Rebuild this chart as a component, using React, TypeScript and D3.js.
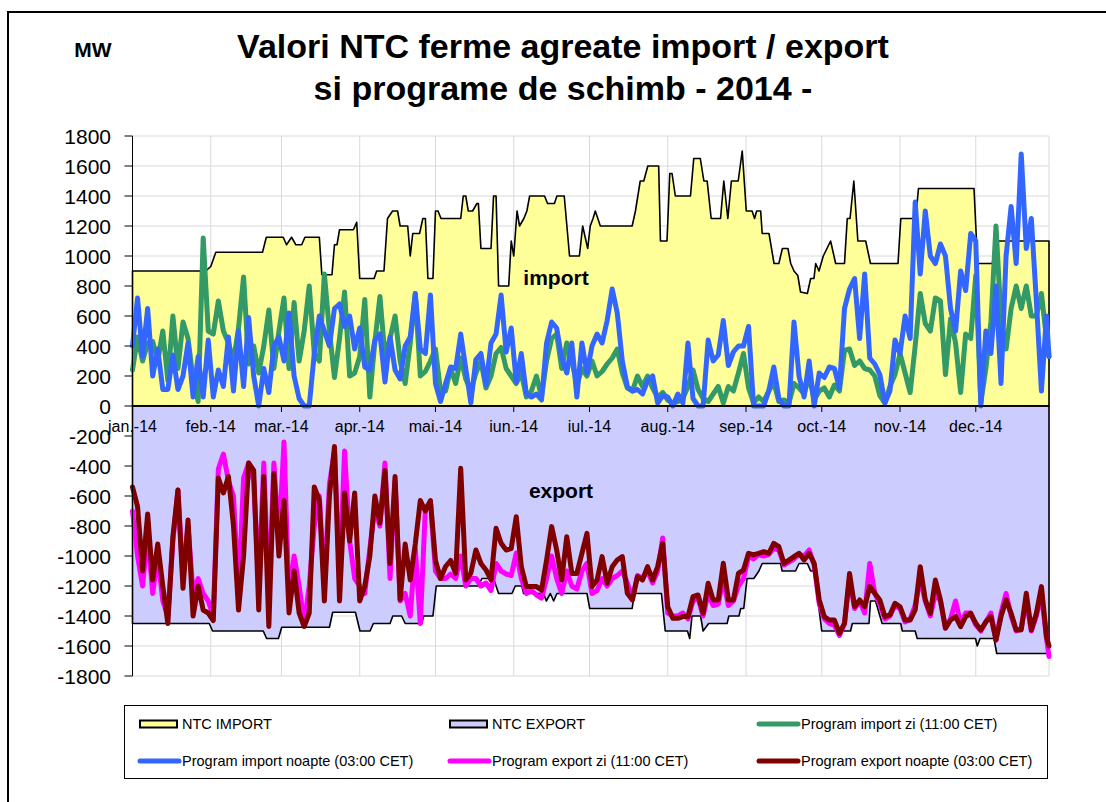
import React from 'react';
import * as d3 from 'd3';

// ---------- DATA ----------
const monthLabels = ['jan.-14', 'feb.-14', 'mar.-14', 'apr.-14', 'mai.-14', 'iun.-14', 'iul.-14', 'aug.-14', 'sep.-14', 'oct.-14', 'nov.-14', 'dec.-14'];
const yTickValues = [1800, 1600, 1400, 1200, 1000, 800, 600, 400, 200, 0, -200, -400, -600, -800, -1000, -1200, -1400, -1600, -1800];

// NTC import: [day of year, MW]
const ntcImport: [number, number][] = [
  [0, 900], [29, 900], [31, 930], [33, 1025], [51.5, 1025], [53, 1125], [59.7, 1125], [61, 1075], [63, 1125], [64.7, 1075], [67, 1075], [68.3, 1125], [74, 1125], [75, 875], [79, 875], [80, 1075], [81, 1075], [82, 1175], [87.5, 1175], [88.8, 1225], [90, 850], [95.7, 850], [96.7, 900], [99.6, 900], [101, 1250], [103, 1300], [105, 1300], [106, 1200], [109, 1200], [110, 1000], [111, 1150], [113.7, 1150], [115, 1250], [116, 1250], [117, 850], [119, 850], [120, 1300], [121, 1300], [122.2, 1250], [130, 1250], [131, 1400], [132, 1400], [133, 1300], [134.7, 1300], [136.4, 1350], [137, 1350], [138, 1050], [142, 1050], [143, 1400], [144, 1400], [145, 800], [149, 800], [150, 1100], [151, 1000], [152.3, 1300], [153.3, 1200], [155, 1250], [156.2, 1300], [157.3, 1400], [163.2, 1400], [164.4, 1350], [167.1, 1350], [168.1, 1400], [171, 1400], [173.1, 1000], [177, 1000], [178.3, 1200], [180.3, 1050], [181.3, 1200], [182.4, 1250], [183.3, 1300], [185.3, 1200], [197.9, 1200], [199.2, 1300], [201.1, 1500], [202.5, 1500], [204.1, 1600], [208.4, 1600], [209.1, 1100], [211.7, 1100], [212.8, 1550], [213.7, 1550], [215, 1400], [221, 1400], [222.3, 1650], [224.9, 1650], [226.3, 1500], [227.6, 1500], [229.2, 1250], [232.9, 1250], [234.2, 1500], [235.8, 1250], [237.2, 1500], [239.9, 1500], [241.5, 1700], [243.1, 1300], [245.4, 1300], [246.4, 1250], [247.2, 1300], [248.8, 1300], [249.4, 1150], [252.1, 1150], [254.1, 950], [256, 950], [257.4, 1050], [259.6, 1050], [260.7, 950], [262, 900], [263.5, 870], [264.6, 760], [267.3, 750], [268.6, 850], [269.9, 850], [270.6, 950], [271.9, 900], [273.6, 1000], [276.5, 1100], [278.5, 950], [282, 950], [283.1, 1250], [284.2, 1250], [285.7, 1500], [287.3, 1100], [290.4, 1100], [292.3, 950], [303.2, 950], [304.3, 1250], [310.2, 1250], [311.3, 1450], [333.3, 1450], [334.7, 950], [340.6, 950], [341.5, 1100], [363, 1100],
];

// NTC export: [day of year, MW]
const ntcExport: [number, number][] = [
  [0, -1450], [30.4, -1450], [31.7, -1500], [51.8, -1500], [53.1, -1550], [57.8, -1550], [59.1, -1475], [78, -1475], [79.3, -1375], [88.3, -1375], [90.1, -1500], [94.1, -1500], [95.4, -1450], [102, -1450], [103.1, -1400], [106.6, -1400], [108, -1450], [114.6, -1450], [115.3, -1400], [119, -1400], [120.3, -1200], [137, -1200], [138.4, -1150], [143, -1150], [145, -1250], [150.3, -1250], [151.6, -1200], [154.2, -1200], [154.9, -1250], [162.8, -1250], [163.9, -1300], [165.5, -1250], [166.8, -1300], [168.1, -1250], [180, -1250], [181.1, -1350], [197.9, -1350], [198.8, -1250], [209.5, -1250], [211, -1500], [219.8, -1500], [220.7, -1550], [221.6, -1400], [225, -1400], [226, -1500], [228.2, -1450], [235.5, -1450], [236.2, -1400], [240.2, -1400], [240.9, -1350], [242.1, -1350], [243.4, -1150], [246.1, -1150], [248.1, -1100], [249.4, -1050], [256.7, -1050], [257.3, -1100], [262.6, -1100], [264, -1050], [267.3, -1050], [268.6, -1100], [270, -1100], [273, -1500], [284.4, -1500], [285.1, -1450], [291.7, -1450], [292.3, -1300], [294.3, -1300], [296.9, -1450], [304.3, -1450], [304.9, -1500], [310, -1500], [310.8, -1550], [333.9, -1550], [334.6, -1600], [335.7, -1550], [341.2, -1550], [342.3, -1650], [363, -1650],
];

// Programs: one value every 2 days from 1 Jan (last value = 30 Dec)
const importZi = [
  240, 460, 300, 420, 430, 300, 500, 170, 600, 250, 560, 450, 180, 30, 1120, 500, 480, 700, 500, 420, 300, 520, 860, 280, 400, 220, 400, 640, 250, 500, 720, 250, 690, 300, 500, 800, 350, 300, 880, 500, 190, 450, 760, 200, 220, 330, 710, 60, 430, 730, 330, 450, 600, 300, 150, 420, 750, 200, 230, 300, 380, 100,
  100, 250, 150, 320, 180, 100, 220, 300, 120, 200, 350, 390, 250, 200, 150, 220, 60, 100, 200, 60, 300, 450, 480, 250, 420, 300, 140, 250, 200, 300, 200, 230, 280, 320, 380, 220, 120, 100, 200, 130, 200, 120, 60, 90, 40, 20, 30, 50, 130, 240, 110, 50, 30, 80, 130, 20, 130, 100, 220, 350, 120, 20, 60, 30, 100, 160, 30, 40, 20, 150, 120, 80, 200, 40, 100,
  120, 60, 140, 100, 370, 380, 270, 300, 250, 240, 200, 70, 20, 130, 210, 350, 220, 90, 400, 750, 550, 500, 720, 700, 210, 580, 420, 90, 480, 450, 870, 20, 250, 560, 1200, 580, 380, 650, 800, 650, 800, 600, 600, 750, 450,
  330,
];
const importNoapte = [
  400, 720, 330, 650, 200, 380, 110, 110, 340, 110, 200, 420, 60, 330, 60, 440, 60, 240, 130, 460, 100, 500, 130, 590, 200, 0, 250, 90, 400, 460, 300, 620, 200, 50, 0, 0, 350, 600, 500, 400, 650, 680, 530, 600, 380, 520, 260, 240, 440, 480, 160, 460, 240, 180, 400, 460, 750, 380, 350, 740, 150, 30,
  150, 260, 250, 480, 250, 20, 310, 350, 140, 420, 480, 740, 360, 520, 160, 350, 80, 60, 80, 40, 420, 560, 520, 320, 220, 420, 60, 420, 220, 400, 480, 420, 570, 780, 620, 300, 130, 100, 110, 80, 170, 200, 20, 70, 60, 0, 80, 20, 420, 50, 0, 0, 440, 300, 340, 570, 270, 360, 400, 400, 530, 0, 0, 0, 100, 260, 50, 0, 0, 560, 200, 60, 300, 0, 220,
  190, 260, 250, 120, 650, 780, 850, 450, 880, 320, 280, 210, 20, 100, 440, 350, 600, 450, 1360, 880, 1300, 1000, 950, 1080, 1000, 650, 500, 900, 770, 1150, 1100, 0, 500, 350, 800, 150, 1000, 1330, 950, 1680, 1050, 1250, 700, 100, 600,
  330,
];
const exportZi = [
  -700, -1000, -1200, -850, -1250, -1000, -1300, -1400, -900, -560, -1150, -800, -1250, -1150, -1250, -1300, -1400, -420, -320, -500, -600, -1250, -480, -380, -500, -1200, -380, -1300, -380, -900, -240, -1300, -1000, -1200, -1450, -1200, -800, -600, -1200, -520, -300, -1150, -300, -900, -1150, -1200, -1250, -950, -680, -800, -380, -1150, -500, -1300, -1250, -1400, -950, -1450, -680, -640, -1100, -1150,
  -1150, -1120, -1150, -1000, -1200, -1150, -1150, -1200, -1180, -1230, -1050, -1100, -1120, -1130, -980, -1150, -1250, -1230, -1260, -1280, -1150, -1000, -1150, -1250, -1100, -1200, -1220, -1100, -1050, -1250, -1230, -1150, -1200, -1150, -1130, -1100, -1180, -1280, -1130, -1150, -1100, -1180, -1100, -880, -1380, -1400, -1400, -1380, -1420, -1300, -1280, -1400, -1250, -1330, -1320, -1150, -1330, -1300, -1200, -1150, -1000, -1020, -990, -1000, -990, -950, -960, -1060, -1040, -1020, -990, -1000, -960, -1060, -1320,
  -1420, -1450, -1460, -1530, -1450, -1150, -1350, -1300, -1380, -1050, -1250, -1320, -1420, -1400, -1330, -1350, -1440, -1420, -1330, -1150, -1300, -1400, -1250, -1300, -1480, -1420, -1300, -1450, -1380, -1380, -1460, -1500, -1440, -1380, -1560, -1380, -1250, -1400, -1500, -1480, -1300, -1500, -1400, -1250, -1550,
  -1670,
];
const exportNoapte = [
  -540, -670, -1100, -720, -1160, -920, -1200, -1450, -870, -560, -1215, -760, -1400, -1200, -1360, -1380, -1430, -480, -580, -470, -800, -1360, -1000, -380, -430, -1360, -470, -1470, -450, -1000, -630, -1380, -1100, -1380, -1470, -1380, -540, -630, -1300, -600, -270, -1300, -580, -900, -580, -1300, -1200, -1000, -600, -780, -430, -1050, -470, -1290, -920, -1160, -920, -630, -700, -630, -1030, -1150,
  -1070, -1030, -1115, -415, -1160, -1115, -960, -1050, -1093, -1160, -815, -915, -960, -950, -738, -1070, -1204, -1204, -1204, -1227, -1027, -804, -960, -1160, -871, -1116, -1116, -982, -849, -1204, -1160, -1004, -1182, -1071, -1027, -1004, -1249, -1293, -1138, -1160, -1071, -1160, -1071, -916, -1338, -1415, -1415, -1404, -1404, -1271, -1260, -1382, -1182, -1293, -1293, -1049, -1293, -1293, -1116, -1093, -982, -993, -982, -971, -982, -916, -938, -1049, -1027, -1004, -982, -1027, -982, -1049, -1293,
  -1404, -1427, -1427, -1516, -1449, -1116, -1338, -1293, -1338, -1204, -1249, -1293, -1404, -1393, -1315, -1338, -1427, -1427, -1360, -1071, -1293, -1382, -1160, -1293, -1482, -1427, -1404, -1471, -1404, -1382, -1449, -1493, -1438, -1404, -1560, -1404, -1293, -1382, -1493, -1493, -1249, -1493, -1382, -1204, -1538,
  -1600,
];

const FONT = '"Liberation Sans", Arial, Helvetica, sans-serif';
const COLORS = {
  ntcImport: '#FFFF99',
  ntcExport: '#CCCCFF',
  importZi: '#339966',
  importNoapte: '#3366FF',
  exportZi: '#FF00FF',
  exportNoapte: '#800000',
};

export default function App() {
  const W = 1106;
  const H = 802;
  const lastDay = 363;
  const x = d3.scaleLinear().domain([0, lastDay]).range([132.5, 1049]);
  const y = d3.scaleLinear().domain([-1800, 1800]).range([676, 136]);
  const start = new Date(2014, 0, 1);
  const monthDays = d3.timeMonth
    .range(start, new Date(2015, 0, 1))
    .map((m) => d3.timeDay.count(start, m));

  const area = d3
    .area<[number, number]>()
    .x((d) => x(d[0]))
    .y0(y(0))
    .y1((d) => y(d[1]));

  const dayOf = (i: number) => Math.min(i * 2, lastDay);
  const line = d3
    .line<number>()
    .x((_, i) => x(dayOf(i)))
    .y((v) => y(v));

  const series = [
    { key: 'importZi', data: importZi, color: COLORS.importZi },
    { key: 'importNoapte', data: importNoapte, color: COLORS.importNoapte },
    { key: 'exportZi', data: exportZi, color: COLORS.exportZi },
    { key: 'exportNoapte', data: exportNoapte, color: COLORS.exportNoapte },
  ];

  const legend = [
    { label: 'NTC IMPORT', type: 'rect', color: COLORS.ntcImport, col: 0, row: 0 },
    { label: 'NTC EXPORT', type: 'rect', color: COLORS.ntcExport, col: 1, row: 0 },
    { label: 'Program import zi (11:00 CET)', type: 'line', color: COLORS.importZi, col: 2, row: 0 },
    { label: 'Program import noapte (03:00 CET)', type: 'line', color: COLORS.importNoapte, col: 0, row: 1 },
    { label: 'Program export zi (11:00 CET)', type: 'line', color: COLORS.exportZi, col: 1, row: 1 },
    { label: 'Program export noapte (03:00 CET)', type: 'line', color: COLORS.exportNoapte, col: 2, row: 1 },
  ];
  const colX = [140, 450, 759];
  const rowY = [724, 761];

  const [x0, x1] = x.range();
  const [yBottom, yTop] = y.range();

  return (
    <svg
      width={W}
      height={H}
      style={{ position: 'absolute', left: 0, top: 0, background: '#fff' }}
      fontFamily={FONT}
    >
      <rect x={0} y={0} width={W} height={H} fill="#fff" />
      {/* outer chart border */}
      <rect x={8} y={12} width={1200} height={900} fill="none" stroke="#000" strokeWidth={2} />

      {/* Titles */}
      <text x={93} y={57} textAnchor="middle" fontSize={21} fontWeight="bold">MW</text>
      <text x={563} y={58} textAnchor="middle" fontSize={34} fontWeight="bold">Valori NTC ferme agreate import / export</text>
      <text x={563} y={100} textAnchor="middle" fontSize={34} fontWeight="bold">si programe de schimb - 2014 -</text>

      {/* gridlines */}
      {yTickValues.map((v) => (
        <line key={'hg' + v} x1={x0} x2={x1} y1={y(v)} y2={y(v)} stroke="#d9d9d9" strokeWidth={1} />
      ))}
      {monthDays.slice(1).map((d) => (
        <line key={'vg' + d} x1={x(d)} x2={x(d)} y1={yTop} y2={yBottom} stroke="#d9d9d9" strokeWidth={1} />
      ))}
      <line x1={x1} x2={x1} y1={yTop} y2={yBottom} stroke="#d9d9d9" strokeWidth={1} />

      {/* NTC areas */}
      <path d={area(ntcImport) || ''} fill={COLORS.ntcImport} stroke="#000" strokeWidth={1.6} strokeLinejoin="round" />
      <path d={area(ntcExport) || ''} fill={COLORS.ntcExport} stroke="#000" strokeWidth={1.6} strokeLinejoin="round" />

      {/* program lines */}
      {series.map((s) => (
        <path
          key={s.key}
          d={line(s.data) || ''}
          fill="none"
          stroke={s.color}
          strokeWidth={5}
          strokeLinejoin="round"
          strokeLinecap="round"
        />
      ))}

      {/* y axis */}
      <line x1={x0} x2={x0} y1={yTop} y2={yBottom} stroke="#000" strokeWidth={1} />
      {yTickValues.map((v) => (
        <g key={'yt' + v}>
          <line x1={x0 - 8} x2={x0} y1={y(v)} y2={y(v)} stroke="#000" strokeWidth={1} />
          <text x={111} y={y(v)} dy="0.36em" textAnchor="end" fontSize={21}>{v}</text>
        </g>
      ))}

      {/* x axis at 0 */}
      <line x1={x0} x2={x1} y1={y(0)} y2={y(0)} stroke="#000" strokeWidth={1.5} />
      {monthDays.map((d, i) => (
        <g key={'xt' + d}>
          <line x1={x(d)} x2={x(d)} y1={y(0)} y2={y(0) + 6} stroke="#000" strokeWidth={1} />
          <text x={x(d)} y={432} textAnchor="middle" fontSize={16}>{monthLabels[i]}</text>
        </g>
      ))}

      {/* in-chart labels */}
      <text x={556} y={285} textAnchor="middle" fontSize={21} fontWeight="bold">import</text>
      <text x={561} y={498} textAnchor="middle" fontSize={21} fontWeight="bold">export</text>

      {/* legend */}
      <rect x={124.5} y={705.5} width={923} height={73} fill="#fff" stroke="#000" strokeWidth={1} />
      {legend.map((l) => {
        const lx = colX[l.col];
        const ly = rowY[l.row];
        return (
          <g key={l.label}>
            {l.type === 'rect' ? (
              <rect x={lx} y={ly - 3.5} width={37} height={7} fill={l.color} stroke="#000" strokeWidth={2} />
            ) : (
              <line x1={lx} x2={lx + 39} y1={ly} y2={ly} stroke={l.color} strokeWidth={5} strokeLinecap="round" />
            )}
            <text x={lx + 42} y={ly} dy="0.36em" fontSize={14.5}>{l.label}</text>
          </g>
        );
      })}
    </svg>
  );
}
